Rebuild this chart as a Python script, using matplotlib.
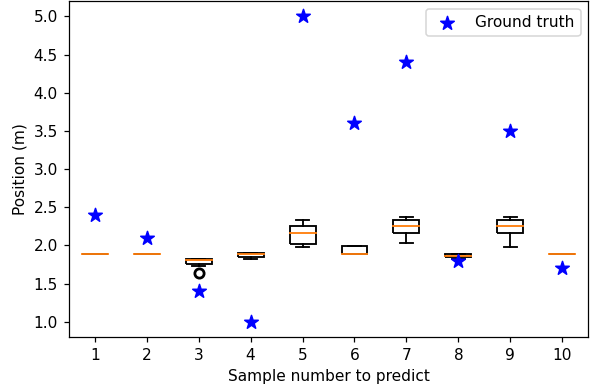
import matplotlib
matplotlib.use("Agg")
import matplotlib.pyplot as plt

samples = [1, 2, 3, 4, 5, 6, 7, 8, 9, 10]
whislo = [1.89, 1.89, 1.735, 1.825, 1.985, 1.89, 2.03, 1.825, 1.985, 1.89]
q1 = [1.89, 1.89, 1.762, 1.85, 2.024, 1.893, 2.16, 1.85, 2.16, 1.89]
med = [1.89, 1.89, 1.81, 1.895, 2.163, 1.893, 2.26, 1.86, 2.26, 1.89]
q3 = [1.89, 1.89, 1.824, 1.90, 2.26, 1.997, 2.33, 1.893, 2.33, 1.89]
whishi = [1.89, 1.89, 1.824, 1.90, 2.33, 1.997, 2.376, 1.893, 2.376, 1.89]
fliers = [[], [], [1.645], [], [], [], [], [], [], []]
ground_truth = [2.4, 2.1, 1.4, 1.0, 5.0, 3.6, 4.4, 1.8, 3.5, 1.7]

stats = []
for i in range(len(samples)):
    stats.append(dict(whislo=whislo[i], q1=q1[i], med=med[i], q3=q3[i],
                      whishi=whishi[i], fliers=fliers[i], label=str(samples[i])))

DPI = 111
fig = plt.figure(figsize=(593 / DPI, 392 / DPI), dpi=DPI)
ax = fig.add_axes([0.116, 0.140, 0.876, 0.857])
ax.bxp(stats, positions=samples,
       boxprops=dict(linewidth=1.2, solid_joinstyle='miter', solid_capstyle='butt'),
       whiskerprops=dict(linewidth=1.2),
       capprops=dict(linewidth=1.2),
       medianprops=dict(color='C1', linewidth=1.2, solid_capstyle='projecting'),
       flierprops=dict(marker='o', markerfacecolor='none', markeredgecolor='black',
                       markersize=6, markeredgewidth=1.8))
ax.scatter(samples, ground_truth, marker='*', color='blue', s=85, zorder=3,
           label='Ground truth')
ax.set_xlim(0.5, 10.5)
ax.set_ylim(0.8, 5.2)
ax.set_yticks([1.0, 1.5, 2.0, 2.5, 3.0, 3.5, 4.0, 4.5, 5.0])
ax.set_xlabel('Sample number to predict')
ax.set_ylabel('Position (m)')
ax.legend(loc='upper right')
fig.savefig('out.png', dpi=DPI)
